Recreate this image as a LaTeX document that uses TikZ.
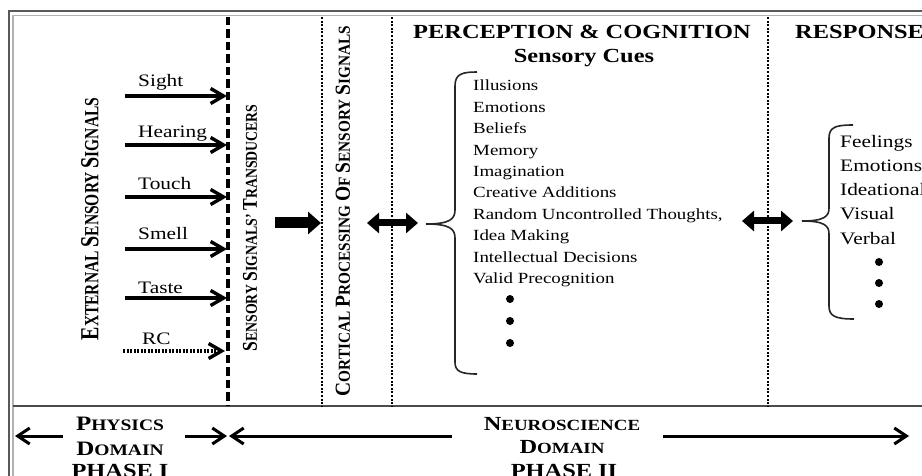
\documentclass[tikz,border=0pt]{standalone}
\usepackage{fontspec}
\usepackage{graphicx}
\setmainfont{Liberation Serif}[FakeStretch=1.22]
\newfontfamily\rotfont{Liberation Serif}
\usetikzlibrary{arrows.meta}
\newcommand\scB{20}
\newcommand\scS{15.5}
\newcommand\SCw[2]{{\fontsize{\scB}{\scB}\selectfont #1}{\fontsize{\scS}{\scS}\selectfont #2}}
\newcommand\fs[1]{\fontsize{#1}{#1}\selectfont}
\begin{document}
\begin{tikzpicture}[x=1pt,y=-1pt,
  frameout/.style={draw=black!65,line width=2pt},
  framein/.style={draw=black!30,line width=1.5pt},
  sepline/.style={draw=black!70,line width=1.6pt},
  dashv/.style={draw=black,line width=3.4pt,dash pattern=on 8.5pt off 4pt},
  dotv/.style={draw=black,line width=2.4pt,dash pattern=on 2pt off 1.6pt},
  sigarrow/.style={draw=black,line width=3.4pt,-{Straight Barb[length=13pt,width=15pt]}},
  rcarrow/.style={sigarrow,dash pattern=on 2pt off 1.5pt},
  bigarrow/.style={draw=black,line width=11pt,-{Triangle[length=13pt,width=22pt]}},
  dblarrow/.style={draw=black,line width=7pt,{Triangle[length=12pt,width=20pt]}-{Triangle[length=12pt,width=20pt]}},
  bracepath/.style={draw=black!85,line width=1.6pt},
  domarrow/.style={draw=black,line width=3pt,-{Straight Barb[length=12pt,width=16pt]}},
  lbl/.style={anchor=base west,inner sep=0pt,font=\fs{17.5}},
  listitem/.style={anchor=base west,inner sep=0pt,font=\fs{15.5}},
  resp/.style={anchor=base west,inner sep=0pt,font=\fs{17.5}},
  header/.style={anchor=base,inner sep=0pt,font=\fs{20}\bfseries},
  bottomlbl/.style={anchor=base,inner sep=0pt,font=\fs{16}\bfseries},
  vlabel/.style={rotate=90,inner sep=0pt,font=\rotfont\bfseries},
  listdot/.style={circle,fill=black,inner sep=0pt,minimum size=8pt},
]
\clip (0,0) rectangle (922,476);
% frame
\draw[frameout] (9,476) -- (9,11) -- (922,11);
\draw[framein] (13,476) -- (13,15.5) -- (922,15.5);
\coordinate (sepL) at (13,406);
\coordinate (sepR) at (922,406);
\draw[sepline] (sepL) -- (sepR);
% vertical separators
\coordinate (d1t) at (228,17); \coordinate (d1b) at (228,406);
\coordinate (d2t) at (322,17); \coordinate (d2b) at (322,406);
\coordinate (d3t) at (392,17); \coordinate (d3b) at (392,406);
\coordinate (d4t) at (768,17); \coordinate (d4b) at (768,406);
\draw[dashv] (d1t) -- (d1b);
\draw[dotv] (d2t) -- (d2b);
\draw[dotv] (d3t) -- (d3b);
\draw[dotv] (d4t) -- (d4b);
% rotated labels
\node[vlabel] (ext) at (90,219) {\fs{15.5}\scalebox{1}[1.3]{\SCw{E}{XTERNAL} \SCw{S}{ENSORY} \SCw{S}{IGNALS}}};
\node[vlabel] (trans) at (250,228) {\renewcommand\scB{17.5}\renewcommand\scS{13.8}\fs{13.8}\scalebox{1}[1.2]{\SCw{S}{ENSORY} \SCw{S}{IGNALS’} \SCw{T}{RANSDUCERS}}};
\node[vlabel] (cort) at (343,211) {\renewcommand\scB{19.5}\renewcommand\scS{15.3}\fs{15.3}\scalebox{1}[1.1]{\SCw{C}{ORTICAL} \SCw{P}{ROCESSING} \SCw{O}{F} \SCw{S}{ENSORY} \SCw{S}{IGNALS}}};
% sensory signal arrows
\foreach \yy/\tb/\tt [count=\i] in {96/87/Sight,145/138/Hearing,197/190/Touch,249/240/Smell,298/293/Taste}{
  \node[lbl] (lab\i) at (138,\tb) {\tt};
  \coordinate (sa\i) at (125,\yy);
  \coordinate (sb\i) at (227,\yy);
  \draw[sigarrow] (sa\i) -- (sb\i);
}
\node[lbl] (labrc) at (142,344) {RC};
\coordinate (rca) at (123,351);
\coordinate (rcb) at (225,351);
\draw[rcarrow] (rca) -- (rcb);
% thick arrows
\coordinate (ta) at (275,223); \coordinate (tb) at (321,223);
\draw[bigarrow] (ta) -- (tb);
\coordinate (ca) at (367,223); \coordinate (cb) at (418,223);
\draw[dblarrow] (ca) -- (cb);
\coordinate (ra) at (742,221); \coordinate (rb) at (793,221);
\draw[dblarrow] (ra) -- (rb);
% headers
\node[header] (perc) at (582,39) {PERCEPTION \& COGNITION};
\node[header] (cues) at (584,63) {Sensory Cues};
\node[header,anchor=base west] (respH) at (795,39) {RESPONSE};
% perception brace
\draw[bracepath] (477,72) .. controls (462,72) and (455,74) .. (455,86) -- (455,210)
  .. controls (455,219) and (450,224) .. (426,224)
  .. controls (450,224) and (455,229) .. (455,238) -- (455,362)
  .. controls (455,371) and (460,374) .. (477,374);
\foreach \t [count=\i] in {Illusions,Emotions,Beliefs,Memory,Imagination,Creative Additions,{Random Uncontrolled Thoughts,},Idea Making,Intellectual Decisions,Valid Precognition}{
  \node[listitem] (it\i) at (473,69.6+21.4*\i) {\t};
}
\node[listdot] (pd1) at (510,299) {};
\node[listdot] (pd2) at (510,321) {};
\node[listdot] (pd3) at (510,343) {};
% response brace
\draw[bracepath] (853,125) .. controls (836,125) and (829,127) .. (829,138) -- (829,208)
  .. controls (829,216) and (825,221) .. (802,221)
  .. controls (825,221) and (829,226) .. (829,234) -- (829,306)
  .. controls (829,316) and (835,319) .. (854,319);
\foreach \t [count=\i] in {Feelings,Emotions,Ideational,Visual,Verbal}{
  \node[resp] (r\i) at (840,124+24*\i) {\t};
}
\node[listdot] (rd1) at (879,262) {};
\node[listdot] (rd2) at (879,283) {};
\node[listdot] (rd3) at (879,304) {};
% bottom domain labels
\node[bottomlbl] (phys) at (120,430) {\renewcommand\scB{20.5}\renewcommand\scS{16}\SCw{P}{HYSICS}};
\node[bottomlbl] (pdom) at (120,455) {\renewcommand\scB{20.5}\renewcommand\scS{16}\SCw{D}{OMAIN}};
\node[bottomlbl,font=\fs{20}\bfseries] (ph1) at (120,477) {PHASE I};
\node[bottomlbl] (neur) at (562,430) {\renewcommand\scB{20}\renewcommand\scS{15.5}\SCw{N}{EUROSCIENCE}};
\node[bottomlbl] (ndom) at (562,453) {\renewcommand\scB{20}\renewcommand\scS{15.5}\SCw{D}{OMAIN}};
\node[bottomlbl,font=\fs{20}\bfseries] (ph2) at (564,477) {PHASE II};
% bottom arrows
\coordinate (b1a) at (63,436); \coordinate (b1b) at (15,436);
\coordinate (b2a) at (185,436); \coordinate (b2b) at (227,436);
\coordinate (b3a) at (452,436); \coordinate (b3b) at (229,436);
\coordinate (b4a) at (663,436); \coordinate (b4b) at (909,436);
\draw[domarrow] (b1a) -- (b1b);
\draw[domarrow] (b2a) -- (b2b);
\draw[domarrow] (b3a) -- (b3b);
\draw[domarrow] (b4a) -- (b4b);
\end{tikzpicture}
\end{document}
